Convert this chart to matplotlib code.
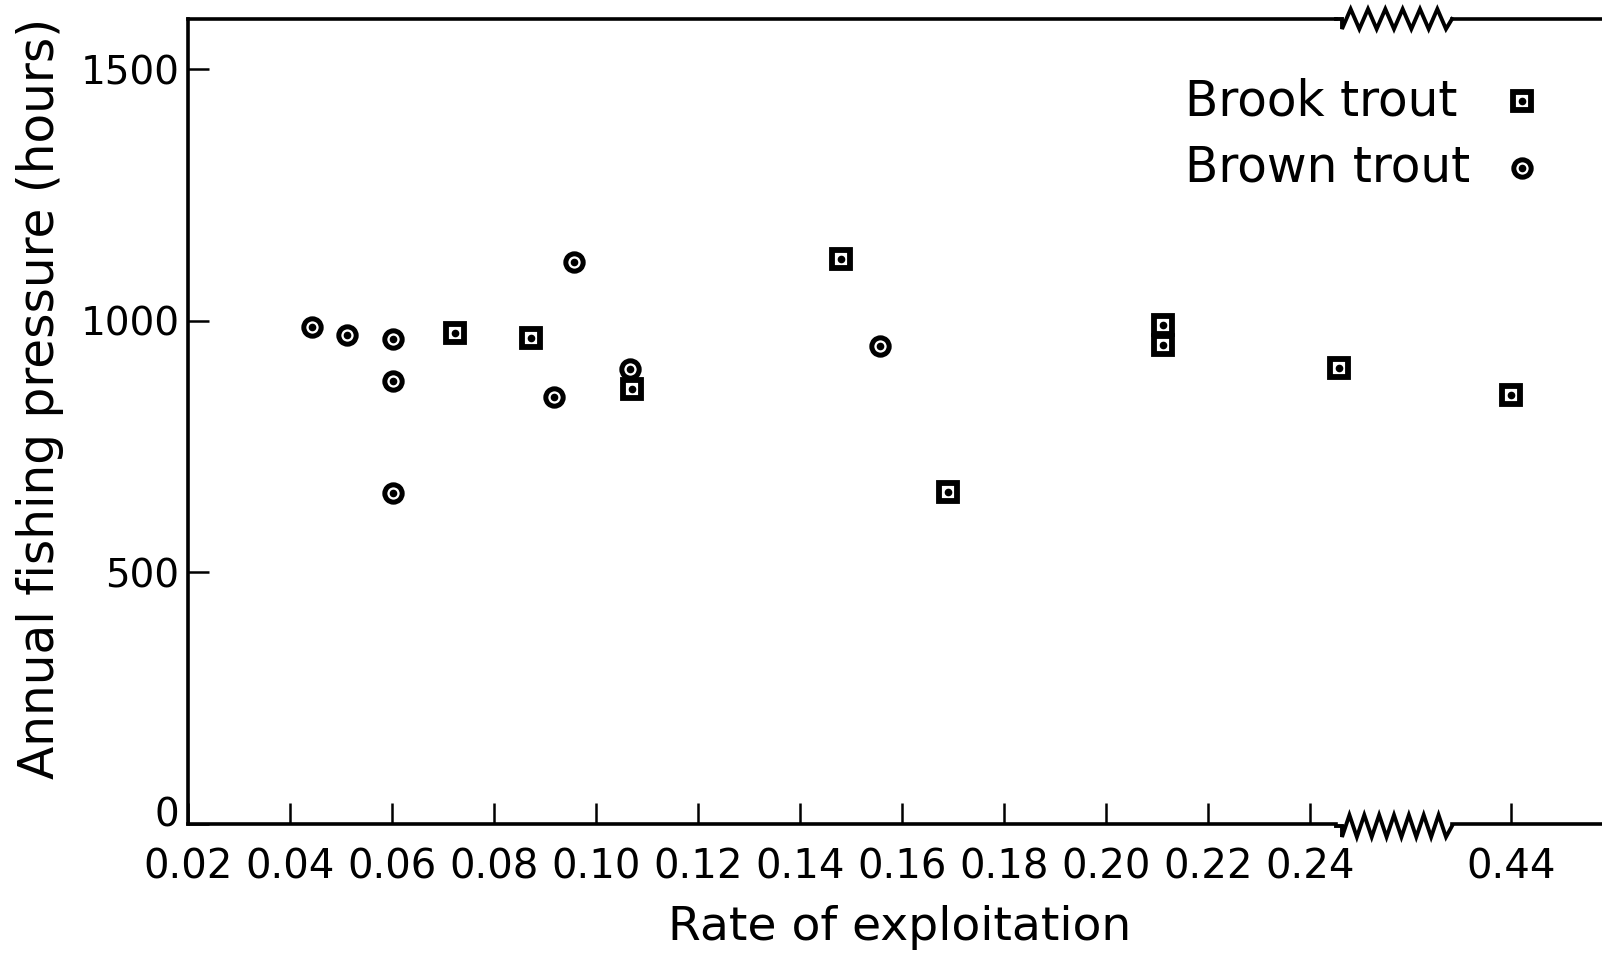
import numpy as np
import matplotlib
matplotlib.use("Agg")
import matplotlib.pyplot as plt
from matplotlib.lines import Line2D
from matplotlib.transforms import ScaledTranslation

# Values
brook_x = [0.0723, 0.0873, 0.1071, 0.148, 0.169, 0.2112, 0.2112, 0.2457, 0.44]
brook_y = [976, 965, 865, 1122, 660, 992, 953, 907, 852]
brown_x = [0.0443, 0.0511, 0.0601, 0.0601, 0.0601, 0.0918, 0.0957, 0.1067, 0.1557]
brown_y = [988, 972, 963, 880, 657, 849, 1118, 905, 951]

left_ticks = [0.02, 0.04, 0.06, 0.08, 0.10, 0.12, 0.14, 0.16, 0.18, 0.20, 0.22, 0.24]
left_labels = ["0.02", "0.04", "0.06", "0.08", "0.10", "0.12", "0.14", "0.16",
               "0.18", "0.20", "0.22", "0.24"]
right_ticks = [0.44]
right_labels = ["0.44"]
y_ticks = [0, 500, 1000, 1500]
legend_labels = ["Brook trout", "Brown trout"]

W, H = 1602, 956
plt.rcParams['font.family'] = ['DejaVu Sans']

fig = plt.figure(figsize=(W / 100, H / 100), dpi=100)


def fx(px):
    return px / W


def fy(py):
    return 1 - py / H


x_left, x_break0, x_break1, x_right = 188, 1336, 1452, 1602
y_top, y_bot = 19, 824
px_per_unit = 102 / 0.02

ax1 = fig.add_axes([fx(x_left), fy(y_bot), fx(x_break0 - x_left), (y_bot - y_top) / H])
ax2 = fig.add_axes([fx(x_break1), fy(y_bot), fx(x_right - x_break1), (y_bot - y_top) / H],
                   sharey=ax1)

ax1.set_xlim(0.02, 0.02 + (x_break0 - x_left) / px_per_unit)
ax2.set_xlim(0.44 - (1511 - x_break1) / px_per_unit, 0.44 + (x_right - 1511) / px_per_unit)
ax1.set_ylim(0, 1600)

for ax in (ax1, ax2):
    for s in ax.spines.values():
        s.set_linewidth(2.6)
    ax.spines['right'].set_visible(False)
    ax.tick_params(direction='in', length=15, width=1.8)
    ax.tick_params(axis='x', labelsize=29, pad=17)

ax2.spines['left'].set_visible(False)
ax2.tick_params(axis='y', left=False, labelleft=False)

ax1.set_xticks(left_ticks)
ax1.set_xticklabels(left_labels)
ax2.set_xticks(right_ticks)
ax2.set_xticklabels(right_labels)
ax1.set_yticks(y_ticks)
ax1.set_yticklabels([str(v) for v in y_ticks])
ax1.tick_params(axis='y', labelsize=28, pad=6)

# the "0" label sits a little above the corner
zero_lab = ax1.get_yticklabels()[0]
zero_lab.set_transform(zero_lab.get_transform() + ScaledTranslation(0, 9 / 72, fig.dpi_scale_trans))

bx = np.array(brook_x)
by = np.array(brook_y)
cx = np.array(brown_x)
cy = np.array(brown_y)

sq_style = dict(marker='s', ms=13.5, mew=4.2, mfc='white', mec='black', ls='none')
ci_style = dict(marker='o', ms=12.5, mew=3.6, mfc='white', mec='black', ls='none')
dot_style = dict(marker='o', ms=4.5, color='black', ls='none')

for ax, sel_b, sel_c in ((ax1, bx < 0.3, cx < 0.3), (ax2, bx > 0.3, cx > 0.3)):
    ax.plot(bx[sel_b], by[sel_b], zorder=3, clip_on=False, **sq_style)
    ax.plot(bx[sel_b], by[sel_b], zorder=4, clip_on=False, **dot_style)
    ax.plot(cx[sel_c], cy[sel_c], zorder=3, clip_on=False, **ci_style)
    ax.plot(cx[sel_c], cy[sel_c], zorder=4, clip_on=False, **dot_style)


# zigzag break marks between the two axes
def zigzag(y0, n, amp):
    xs = [x_break0, x_break0 + 6]
    ys = [y0, y0]
    span = (x_break1 - 6) - (x_break0 + 6)
    for i in range(2 * n + 1):
        xs.append(x_break0 + 6 + span * i / (2 * n))
        ys.append(y0 + (amp if i % 2 == 0 else -amp))
    xs.append(x_break1)
    ys.append(y0)
    fig.add_artist(Line2D([fx(v) for v in xs], [fy(v) for v in ys],
                          transform=fig.transFigure, color='black', lw=2.8,
                          solid_joinstyle='miter'))


zigzag(y_top, 6, 10)
zigzag(y_bot + 2, 7, 11)

# legend: text on the left, symbol on the right
leg_rows = [(101, sq_style), (168, ci_style)]
for (row_y, style), label in zip(leg_rows, legend_labels):
    fig.text(fx(1185), fy(row_y), label, ha='left', va='center', fontsize=35)
    fig.add_artist(Line2D([fx(1522)], [fy(row_y)], transform=fig.transFigure, **style))
    fig.add_artist(Line2D([fx(1522)], [fy(row_y)], transform=fig.transFigure, **dot_style))

fig.text(fx(900), fy(927), "Rate of exploitation", ha='center', va='center', fontsize=34)
fig.text(fx(40), fy(398), "Annual fishing pressure (hours)", ha='center', va='center',
         rotation=90, fontsize=35)

fig.savefig("out.png", dpi=100)
